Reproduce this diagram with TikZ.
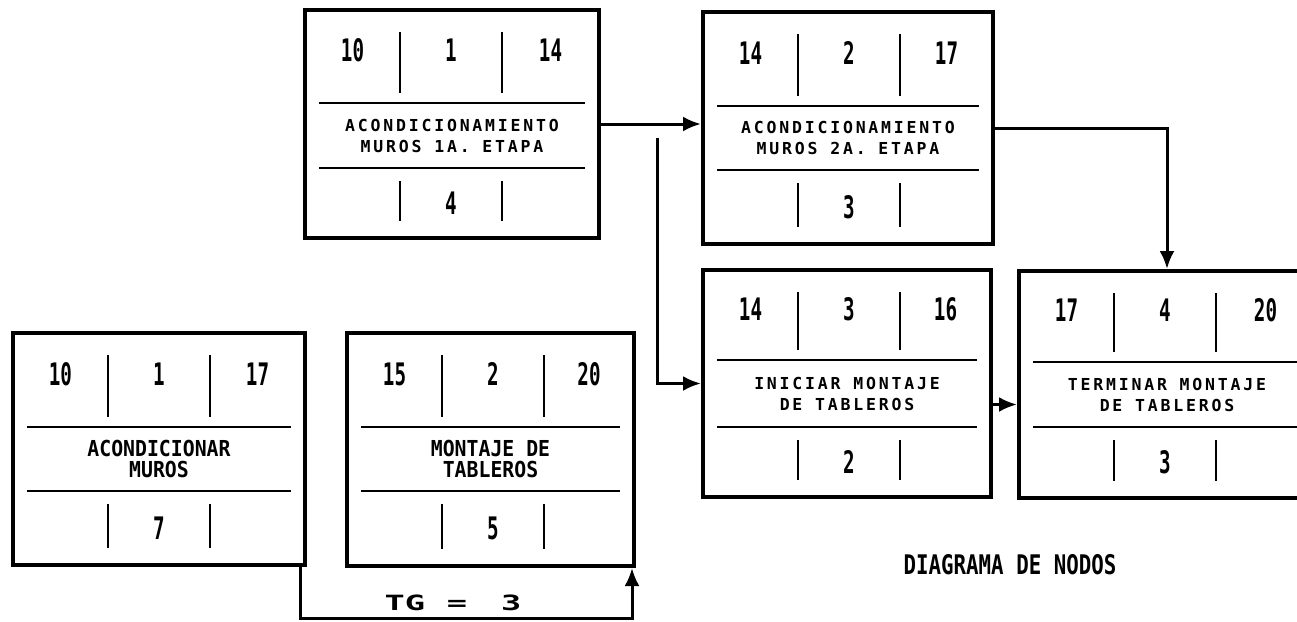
\documentclass[tikz,border=0pt]{standalone}
\usepackage{fontspec}
\usetikzlibrary{arrows.meta,fit}
\newfontfamily\numfont[FakeStretch=0.62]{DejaVu Sans Mono}
\newfontfamily\midfont[FakeStretch=0.9]{DejaVu Sans Mono}
\newfontfamily\titlefont[FakeStretch=0.77]{DejaVu Sans Mono}
\newfontfamily\namefont[LetterSpace=17]{DejaVu Sans Mono}
\newfontfamily\tgfont[FakeStretch=1.6]{DejaVu Sans Mono}
\tikzset{
  boxfr/.style={draw, line width=4pt, inner sep=0pt},
  inln/.style={line width=2.4pt},
  divln/.style={line width=2.2pt},
  conn/.style={line width=3pt},
  arr/.style={conn, -{Latex[length=18pt,width=15pt]}},
  num/.style={font={\numfont\bfseries\fontsize{31}{31}\selectfont}, inner sep=0pt},
  nm/.style={font={\namefont\bfseries\fontsize{16.5}{21}\selectfont}, align=center, inner sep=0pt},
  mid/.style={font={\midfont\bfseries\fontsize{22}{21}\selectfont}, align=center, inner sep=0pt},
  ttl/.style={font={\titlefont\bfseries\fontsize{27}{27}\selectfont}, inner sep=0pt},
  tg/.style={font={\tgfont\bfseries\fontsize{21}{21}\selectfont}, inner sep=0pt}
}
% #1 name, #2 x0, #3 y0, #4 x1, #5 y1, #6 first rule y, #7 second rule y
\newcommand{\actbox}[7]{%
  \coordinate (#1-nw) at (#2,#3);
  \coordinate (#1-se) at (#4,#5);
  \node[boxfr, fit=(#1-nw)(#1-se)] (#1) {};
  \draw[inln] ({#2+14},#6) -- ({#4-14},#6);
  \draw[inln] ({#2+14},#7) -- ({#4-14},#7);
  \draw[divln] ({#2+95},{#3+22}) -- ({#2+95},{#6-10});
  \draw[divln] ({#2+197},{#3+22}) -- ({#2+197},{#6-10});
  \draw[divln] ({#2+95},{#7+13}) -- ({#2+95},{#5-17});
  \draw[divln] ({#2+197},{#7+13}) -- ({#2+197},{#5-17});
  \coordinate (#1-c1) at ({#2+47.5},{(#3+#6)/2-6});
  \coordinate (#1-c2) at ({#2+146},{(#3+#6)/2-6});
  \coordinate (#1-c3) at ({(#2+197+#4)/2},{(#3+#6)/2-6});
  \coordinate (#1-m) at ({(#2+#4)/2},{(#6+#7)/2});
  \coordinate (#1-b) at ({#2+146},{(#7+#5)/2});
}
% #1 name, #2 early start, #3 number, #4 finish, #5 duration, #6 text, #7 text style
\newcommand{\boxtexts}[7]{%
  \node[num] (#1-t1) at (#1-c1) {#2};
  \node[num] (#1-t2) at (#1-c2) {#3};
  \node[num] (#1-t3) at (#1-c3) {#4};
  \node[#7] (#1-tm) at (#1-m) {#6};
  \node[num] (#1-tb) at (#1-b) {#5};
}
\begin{document}
\begin{tikzpicture}[x=1pt,y=-1pt]
\useasboundingbox (0,0) rectangle (1297,621);
\fill[white] (0,0) rectangle (1297,621);

\actbox{A}{305}{10}{599}{238}{103}{168}
\boxtexts{A}{10}{1}{14}{4}{ACONDICIONAMIENTO\\MUROS 1A. ETAPA}{nm}

\actbox{B}{703}{12}{993}{244}{106}{170}
\boxtexts{B}{14}{2}{17}{3}{ACONDICIONAMIENTO\\MUROS 2A. ETAPA}{nm}

\actbox{C}{13}{333}{305}{565}{427}{491}
\boxtexts{C}{10}{1}{17}{7}{ACONDICIONAR\\MUROS}{mid}

\actbox{D}{347}{333}{634}{566}{427}{491}
\boxtexts{D}{15}{2}{20}{5}{MONTAJE DE\\TABLEROS}{mid}

\actbox{E}{703}{270}{991}{497}{360}{427}
\boxtexts{E}{14}{3}{16}{2}{INICIAR MONTAJE\\DE TABLEROS}{nm}

\actbox{F}{1019}{271}{1315}{498}{362}{427}
\boxtexts{F}{17}{4}{20}{3}{TERMINAR MONTAJE\\DE TABLEROS}{nm}

% connectors
\coordinate (brtop) at (657,138);
\coordinate (tgline) at (460,618);
\draw[arr] (A.east) -- (A.east -| B.west);
\draw[arr] (brtop) |- (E.west);
\draw[arr] (B.east) -| (F.north);
\draw[arr] ([yshift=-21pt]E.east) -- ([yshift=-21pt]E.east -| F.west);
\draw[arr] ([xshift=-7pt]C.south east) |- (tgline) -| ([xshift=-4pt]D.south east);

\node[tg] (tg) at (453,603) {TG\hspace{22pt}=\hspace{34pt}3};
\node[ttl] (title) at (1010,565) {DIAGRAMA DE NODOS};
\end{tikzpicture}
\end{document}
